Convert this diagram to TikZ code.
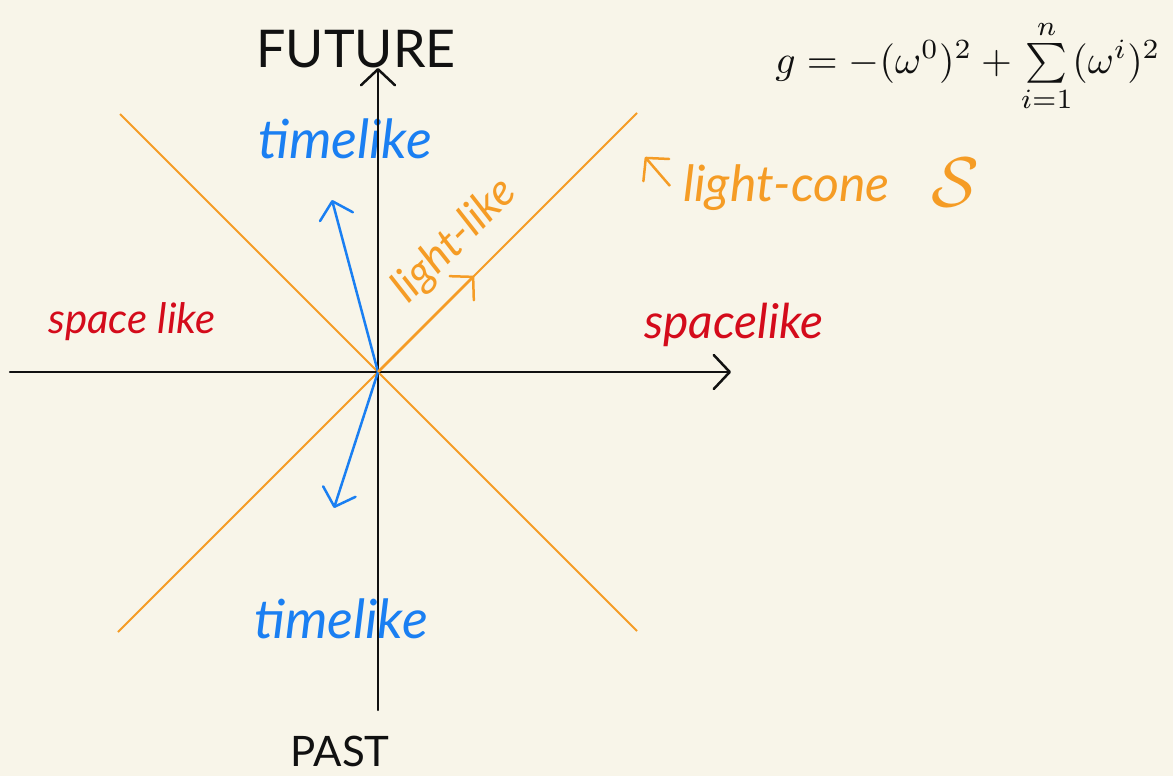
\documentclass[tikz,border=0pt]{standalone}
\usepackage{fontspec}
\setmainfont{Lato}
\usetikzlibrary{arrows.meta}
\definecolor{bg}{HTML}{F8F5E9}
\definecolor{conecol}{HTML}{F59C25}
\definecolor{timecol}{HTML}{1A7FF2}
\definecolor{spacecol}{HTML}{D40B1B}
\definecolor{inkcol}{HTML}{111111}
\tikzset{
  barb/.tip={Straight Barb[length=16pt,width=34pt,line width=2.5pt,round]},
  axisline/.style={line width=2.2pt, inkcol, line cap=round},
  coneline/.style={line width=2pt, conecol},
  vecline/.style={line width=2.5pt, timecol, line cap=round},
  caps/.style={font=\fontsize{52}{56}\selectfont, text=inkcol, inner sep=0pt},
  hand/.style={font=\fontsize{48}{52}\selectfont\itshape, inner sep=0pt},
}
\begin{document}
\begin{tikzpicture}[x=1pt,y=-1pt]
\fill[bg] (0,0) rectangle (1173,776);
\useasboundingbox (0,0) rectangle (1173,776);

% key points
\coordinate (O) at (378,372);
\coordinate (xl) at (10,372);
\coordinate (xr) at (731,372);
\coordinate (yb) at (378,710);
\coordinate (yt) at (378,68);
\coordinate (c1a) at (120,114);
\coordinate (c1b) at (637,631);
\coordinate (c2a) at (637,113);
\coordinate (c2b) at (118,632);
\coordinate (vt) at (332,200);
\coordinate (vb) at (334,508);
\coordinate (vl) at (474,276);
\coordinate (lca) at (670,186);
\coordinate (lcb) at (645,157);

% labels
\node[hand, text=timecol, font=\fontsize{54}{58}\selectfont\itshape] (tl1) at (345,139) {timelike};
\node[hand, text=timecol, font=\fontsize{54}{58}\selectfont\itshape] (tl2) at (341,619) {timelike};
\node[hand, text=spacecol, font=\fontsize{42}{46}\selectfont\itshape] (sl1) at (132,322) {space like};
\node[hand, text=spacecol] (sl2) at (734,325) {spacelike};
\node[hand, text=conecol, font=\fontsize{50}{54}\selectfont\itshape, anchor=west] (lc) at (683,188) {light-cone};
\node[inner sep=0pt, text=conecol] (lcs) at (955,182) {\resizebox{!}{48pt}{$\mathcal{S}$}};
\node[hand, text=conecol, rotate=45, font=\fontsize{44}{48}\selectfont\itshape] (ll) at (455,241) {light-like};
\node[caps] (fut) at (356,49) {FUTURE};
\node[caps, font=\fontsize{42}{46}\selectfont] (past) at (340,751) {PAST};
\node[inner sep=0pt, text=inkcol] (eq) at (968,66) {\resizebox{385pt}{!}{$g = -(\omega^0)^2 + \sum\limits_{i=1}^{n}(\omega^i)^2$}};

% light cone
\draw[coneline] (c1a) -- (c1b);
\draw[coneline] (c2a) -- (c2b);

% axes
\draw[axisline, -{barb}] (xl) -- (xr);
\draw[axisline, -{barb}] (yb) -- (yt);

% vectors
\draw[vecline, -{barb}] (O) -- (vt);
\draw[vecline, -{barb}] (O) -- (vb);
\draw[coneline, line width=2.5pt, -{barb}] (O) -- (vl);
\draw[coneline, line width=2.5pt, -{barb}] (lca) -- (lcb);
\end{tikzpicture}
\end{document}
